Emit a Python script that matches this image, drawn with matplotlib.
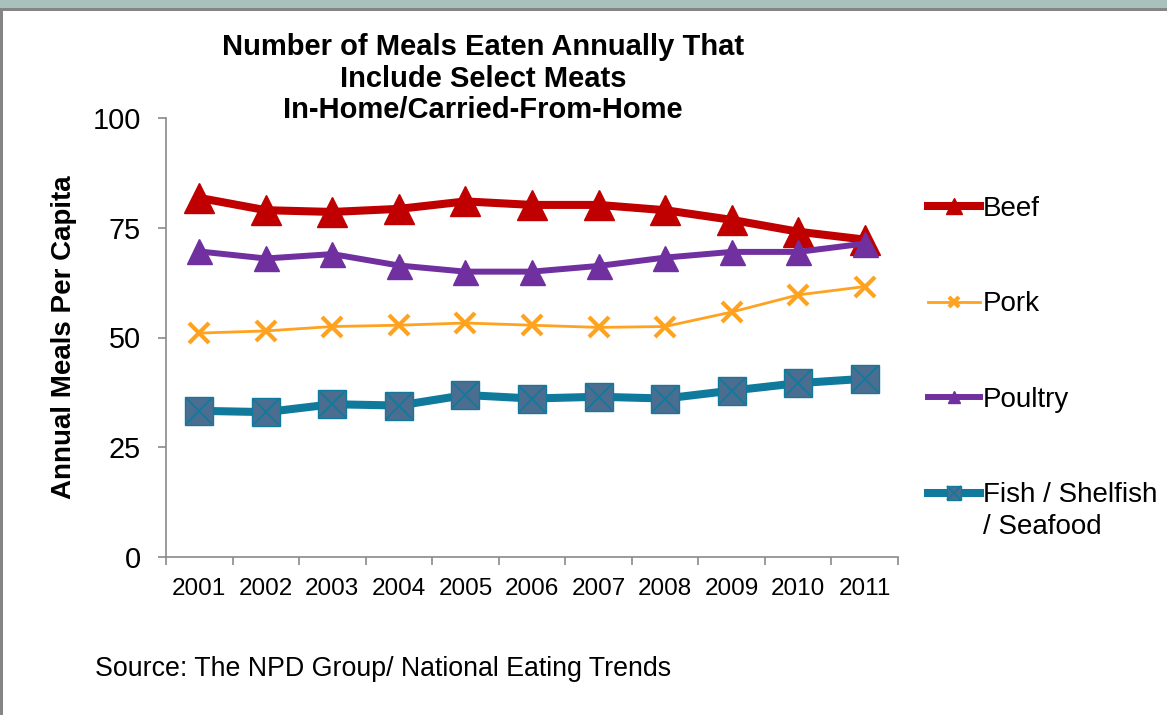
import matplotlib
matplotlib.use("Agg")
import matplotlib.pyplot as plt
from matplotlib.patches import Rectangle
from matplotlib.legend_handler import HandlerTuple
import numpy as np

years = ["2001", "2002", "2003", "2004", "2005", "2006", "2007", "2008", "2009", "2010", "2011"]
beef = [81.8, 79.0, 78.6, 79.3, 81.0, 80.2, 80.2, 79.0, 76.8, 74.1, 72.3]
pork = [51.0, 51.5, 52.5, 52.8, 53.3, 52.8, 52.3, 52.5, 55.8, 59.7, 61.6]
poultry = [69.6, 68.0, 69.0, 66.4, 65.0, 65.0, 66.3, 68.2, 69.5, 69.5, 71.4]
fish = [33.3, 33.0, 34.8, 34.5, 36.9, 36.1, 36.5, 36.1, 37.9, 39.6, 40.6]
yticks = [0, 25, 50, 75, 100]

title = "Number of Meals Eaten Annually That\nInclude Select Meats\nIn-Home/Carried-From-Home"
ylabel = "Annual Meals Per Capita"
source = "Source: The NPD Group/ National Eating Trends"

plt.rcParams['font.family'] = ['Liberation Sans', 'DejaVu Sans']

fig = plt.figure(figsize=(11.67, 7.15), dpi=100)
fig.patch.set_facecolor("white")

# frame decoration
fig.patches.append(Rectangle((0, 1 - 8 / 715), 1, 8 / 715, transform=fig.transFigure,
                             facecolor="#a9c1bd", edgecolor="none", zorder=0))
fig.patches.append(Rectangle((0, 1 - 10.5 / 715), 1, 2.5 / 715, transform=fig.transFigure,
                             facecolor="#858585", edgecolor="none", zorder=0))
fig.patches.append(Rectangle((0, 0), 3 / 1167, 1 - 8 / 715, transform=fig.transFigure,
                             facecolor="#858585", edgecolor="none", zorder=0))

ax = fig.add_axes([166 / 1167, 1 - 557 / 715, (898 - 166) / 1167, (557 - 118) / 715])
x = np.arange(len(years))

beef_c = "#c00000"
pork_c = "#ffa21f"
poultry_c = "#7030a0"
fish_c = "#0f7a9c"
fish_fill = "#4b6d90"

hb, = ax.plot(x, beef, color=beef_c, lw=5.8, marker="^", ms=22, mfc=beef_c, mec=beef_c, zorder=3)
hpo, = ax.plot(x, poultry, color=poultry_c, lw=4.3, marker="^", ms=18, mfc=poultry_c, mec=poultry_c, zorder=4)
hp, = ax.plot(x, pork, color=pork_c, lw=2, marker="x", ms=15, mew=3, zorder=3)
hf, = ax.plot(x, fish, color=fish_c, lw=5.8, marker="s", ms=20, mfc=fish_fill, mec=fish_c, mew=1, zorder=3)
hfx, = ax.plot(x, fish, ls="none", marker="x", ms=19, mew=1.3, color=fish_c, zorder=3.5)

ax.set_xlim(-0.5, len(years) - 0.5)
ax.set_ylim(0, 100)

for s in ["top", "right"]:
    ax.spines[s].set_visible(False)
for s in ["left", "bottom"]:
    ax.spines[s].set_color("#8a8a8a")
    ax.spines[s].set_linewidth(1.2)

ax.set_yticks(yticks)
ax.set_yticklabels([str(v) for v in yticks], fontsize=20.8)
ax.tick_params(axis="y", length=6, width=1.2, color="#8a8a8a", pad=12)

ax.set_xticks(np.arange(len(years) + 1) - 0.5)
ax.set_xticklabels([])
ax.tick_params(axis="x", which="major", length=5.5, width=1.2, color="#8a8a8a")
ax.set_xticks(x, minor=True)
ax.set_xticklabels(years, minor=True, fontsize=17.5)
ax.tick_params(axis="x", which="minor", length=0, pad=15)

ax.set_ylabel(ylabel, fontsize=20, fontweight="bold", labelpad=11)

fig.text(483 / 1167, 1 - 33 / 715, title, ha="center", va="top", fontsize=21,
         fontweight="bold", linespacing=1.17)

fig.text(95 / 1167, 1 - 676 / 715, source, ha="left", va="baseline", fontsize=19.3)

handles = [hb, hp, hpo, (hf, hfx)]
labels = ["Beef", "Pork", "Poultry", "Fish / Shelfish"]
leg = fig.legend(handles, labels, loc="upper left", bbox_to_anchor=(903 / 1167, 1 - 171 / 715),
                 frameon=False, fontsize=20, handlelength=1.87, handletextpad=0.1,
                 labelspacing=2.5, markerscale=0.5,
                 handler_map={tuple: HandlerTuple(ndivide=1)})
fig.canvas.draw()
bb = leg.get_texts()[3].get_window_extent()
fig.text(bb.x0 / fig.bbox.width, (bb.y0 - 6) / fig.bbox.height, "/ Seafood",
         ha="left", va="top", fontsize=20)

fig.savefig("out.png", dpi=100)
